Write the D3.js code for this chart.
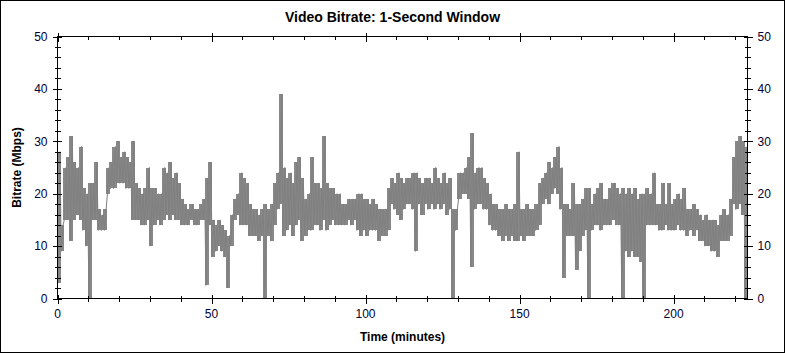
<!DOCTYPE html>
<html>
<head>
<meta charset="utf-8">
<script src="https://cdn.jsdelivr.net/npm/d3@7"></script>
<style>
body { margin: 0; background: #fff; }
svg { display: block; font-family: Arial, "Liberation Sans", sans-serif; }
</style>
</head>
<body>
<svg id="chart" width="785" height="353"></svg>
<script>
var chartTitle = "Video Bitrate: 1-Second Window";
var xLabel = "Time (minutes)";
var yLabel = "Bitrate (Mbps)";
var xTicks = [0, 50, 100, 150, 200];
var yTicks = [0, 10, 20, 30, 40, 50];

// per-minute high / low of the 1-second bitrate (Mbps)
var peakMbps = [
	28, 14, 25, 27, 31, 26, 25, 29, 21, 20,
	22, 22, 26, 17, 16, 17, 25, 26, 29, 30,
	27, 28, 27, 26, 30, 22, 21, 20, 21, 25,
	21, 21, 20, 20, 25, 24, 26, 23, 24, 22,
	19, 18, 17, 18, 17, 17, 18, 19, 23, 26,
	15, 14, 15, 14, 13, 12, 16, 19, 20, 24,
	23, 22, 18, 17, 17, 16, 17, 18, 17, 18,
	22, 24, 39, 25, 23, 24, 22, 26, 27, 23,
	19, 20, 27, 22, 22, 21, 31, 22, 21, 21,
	20, 20, 18, 18, 19, 19, 19, 20, 20, 19,
	19, 18, 19, 18, 17, 17, 17, 21, 23, 22,
	24, 23, 22, 23, 23, 24, 24, 23, 22, 23,
	23, 22, 25, 23, 22, 24, 22, 23, 17, 17,
	24, 24, 25, 27, 31.5, 24, 25, 25, 23, 22,
	20, 18, 18, 17, 17, 18, 17, 17, 18, 28,
	17, 17, 18, 17, 17, 18, 22, 23, 24, 26,
	25, 27, 29, 25, 18, 18, 17, 22, 18, 18,
	19, 21, 21, 18, 20, 21, 22, 19, 19, 21,
	22, 21, 20, 21, 20, 21, 20, 21, 19, 20,
	20, 21, 20, 24, 18, 18, 22, 18, 22, 18,
	19, 20, 19, 21, 17, 17, 18, 17, 16, 15,
	16, 15, 15, 15, 14, 16, 17, 16, 19, 27,
	30, 31, 30, 29
];
var troughMbps = [
	3, 9, 15, 15, 11, 15, 16, 15, 13, 10,
	0, 15, 15, 13, 13, 13, 20, 21, 21, 22,
	22, 22, 21, 21, 15, 15, 15, 14, 14, 15,
	10, 14, 15, 14, 15, 16, 15, 16, 15, 15,
	14, 14, 14, 15, 14, 14, 15, 15, 2.5, 14,
	8, 9, 10, 9, 8, 2, 10, 15, 16, 14,
	14, 14, 12, 12, 12, 11, 12, 0, 12, 11,
	14, 17, 18, 12, 13, 14, 12, 14, 15, 11,
	12, 13, 13, 14, 14, 13, 15, 13, 14, 15,
	14, 14, 14, 14, 15, 14, 15, 13, 12, 13,
	12, 13, 13, 13, 11, 12, 12, 13, 18, 17,
	16, 15, 17, 18, 18, 17, 9, 18, 16, 18,
	17, 18, 17, 18, 17, 18, 16, 17, 0, 13,
	19, 20, 20, 19, 6, 17, 18, 18, 17, 17,
	14, 13, 13, 12, 11, 12, 11, 12, 11, 11,
	12, 11, 12, 12, 12, 13, 14, 18, 19, 18,
	20, 21, 20, 17, 4, 12, 12, 12, 5.5, 9,
	12, 13, 0, 13, 14, 14, 13, 14, 14, 14,
	15, 14, 14, 0, 9, 8, 9, 8, 8, 7,
	0, 14, 14, 14, 14, 13, 13, 14, 13, 13,
	13, 14, 13, 13, 12, 13, 12, 13, 11, 11,
	10, 10, 9, 9, 8, 11, 11, 11, 12, 18,
	17, 18, 16, 0
];

var svg = d3.select("#chart");
var W = 785, H = 353;
var pL = 57.5, pR = 747.5, pT = 36.5, pB = 298.5;

var x = d3.scaleLinear().domain([0, 224]).range([pL, pR]);
var y = d3.scaleLinear().domain([0, 50]).range([pB, pT]);

// outer frame
svg.append("rect")
	.attr("x", 0.5).attr("y", 0.5)
	.attr("width", W - 1).attr("height", H - 1)
	.attr("fill", "#fff").attr("stroke", "#000");

// each minute's spread as a block, so the trace reads as dense noise
var mins = peakMbps.map(function(p, i) { return i; });

svg.append("g").attr("fill", "#888").attr("shape-rendering", "crispEdges")
	.selectAll("rect").data(mins).enter().append("rect")
	.attr("x", function(i) { return Math.floor(x(i)); })
	.attr("width", function(i) { return Math.ceil(x(i + 1)) - Math.floor(x(i)); })
	.attr("y", function(i) { return y(peakMbps[i]); })
	.attr("height", function(i) { return y(troughMbps[i]) - y(peakMbps[i]); });

// the bitrate trace: trough then peak within each minute
var pts = [];
peakMbps.forEach(function(p, i) {
	pts.push([i + 0.2, troughMbps[i]]);
	pts.push([i + 0.8, p]);
});

var line = d3.line()
	.x(function(d) { return x(d[0]); })
	.y(function(d) { return y(d[1]); });

svg.append("path")
	.datum(pts)
	.attr("d", line)
	.attr("fill", "none")
	.attr("stroke", "#808080")
	.attr("stroke-width", 1)
	.attr("stroke-linejoin", "bevel");

// plot frame
svg.append("rect")
	.attr("x", pL).attr("y", pT)
	.attr("width", pR - pL).attr("height", pB - pT)
	.attr("fill", "none").attr("stroke", "#000");

var ticks = svg.append("g").attr("stroke", "#000").attr("shape-rendering", "crispEdges");

var yMinor = d3.range(0, 51, 2).filter(function(v) { return v % 10 !== 0; });
var xMinor = d3.range(0, 224, 10).filter(function(v) { return v % 50 !== 0; });

function vTicks(vals, x0, outLen, inLen, dir) {
	ticks.selectAll(null).data(vals).enter().append("line")
		.attr("x1", x0 - dir * outLen).attr("x2", x0 + dir * inLen)
		.attr("y1", function(d) { return Math.round(y(d)) + 0.5; })
		.attr("y2", function(d) { return Math.round(y(d)) + 0.5; });
}
function hTicks(vals, y0, outLen, inLen, dir) {
	ticks.selectAll(null).data(vals).enter().append("line")
		.attr("y1", y0 + dir * outLen).attr("y2", y0 - dir * inLen)
		.attr("x1", function(d) { return Math.round(x(d)) + 0.5; })
		.attr("x2", function(d) { return Math.round(x(d)) + 0.5; });
}
vTicks(yTicks, pL, 5, 4, 1);
vTicks(yMinor, pL, 3, 3, 1);
vTicks(yTicks, pR, 5, 4, -1);
vTicks(yMinor, pR, 3, 3, -1);
hTicks(xTicks, pB, 5, 4, 1);
hTicks(xMinor, pB, 3, 3, 1);
hTicks(xTicks, pT, 4, 5, -1);
hTicks(xMinor, pT, 0, 3, -1);

var lab = svg.append("g").attr("font-size", 12).attr("fill", "#000033");

lab.selectAll(null).data(yTicks).enter().append("text")
	.attr("x", pL - 10).attr("y", function(d) { return y(d); })
	.attr("dy", "0.35em").attr("text-anchor", "end")
	.text(function(d) { return d; });

lab.selectAll(null).data(yTicks).enter().append("text")
	.attr("x", pR + 10).attr("y", function(d) { return y(d); })
	.attr("dy", "0.35em").attr("text-anchor", "start")
	.text(function(d) { return d; });

lab.selectAll(null).data(xTicks).enter().append("text")
	.attr("x", function(d) { return x(d); }).attr("y", pB + 19)
	.attr("text-anchor", "middle")
	.text(function(d) { return d; });

svg.append("text")
	.attr("x", W / 2).attr("y", 22)
	.attr("text-anchor", "middle")
	.attr("font-size", 14).attr("font-weight", "bold")
	.text(chartTitle);

svg.append("text")
	.attr("x", (pL + pR) / 2).attr("y", 341)
	.attr("text-anchor", "middle")
	.attr("font-size", 12).attr("font-weight", "bold")
	.text(xLabel);

svg.append("text")
	.attr("transform", "translate(21," + ((pT + pB) / 2) + ") rotate(-90)")
	.attr("text-anchor", "middle")
	.attr("font-size", 12).attr("font-weight", "bold")
	.text(yLabel);
</script>
</body>
</html>
